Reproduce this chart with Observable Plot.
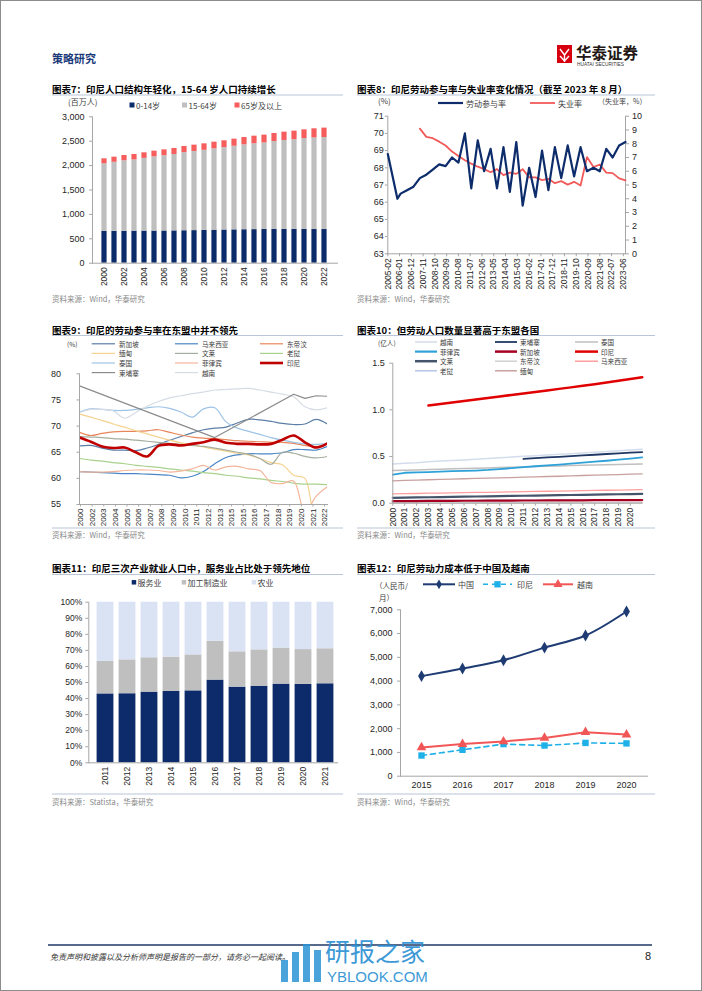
<!DOCTYPE html>
<html lang="zh-CN">
<head>
<meta charset="utf-8">
<script src="https://cdn.jsdelivr.net/npm/d3@7"></script>
<script src="https://cdn.jsdelivr.net/npm/@observablehq/plot@0.6"></script>
<style>
html,body{margin:0;padding:0;background:#fff;}
#page{position:relative;width:702px;height:991px;overflow:hidden;background:#fff;}
.chart{position:absolute;}
</style>
</head>
<body>
<div id="page"></div>
<script>
// ================= DATA =================
// Chart 7: population by age group (百万人)
const years7 = [2000,2001,2002,2003,2004,2005,2006,2007,2008,2009,2010,2011,2012,2013,2014,2015,2016,2017,2018,2019,2020,2021,2022];
const age0_14 = [650,652,655,657,658,658,660,662,665,668,672,676,680,683,686,688,690,691,692,692,691,690,690];
const age15_64 = [1387,1416,1444,1460,1490,1521,1543,1566,1601,1622,1641,1667,1687,1714,1740,1760,1774,1802,1823,1839,1862,1878,1886];
const age65 = [102,105,108,111,114,117,120,123,126,129,133,137,141,145,150,155,160,165,170,175,180,186,192];
const ageGroups = ["0-14岁","15-64岁","65岁及以上"];
const xTicks7 = [2000,2002,2004,2006,2008,2010,2012,2014,2016,2018,2020,2022];
const yTicks7 = [0,500,1000,1500,2000,2500,3000];

// Chart 8: labour participation rate & unemployment rate
const lfprDates = ["2005-02","2005-11","2006-02","2006-08","2007-02","2007-08","2008-02","2008-08","2009-02","2009-08","2010-02","2010-08","2011-02","2011-08","2012-02","2012-08","2013-02","2013-08","2014-02","2014-08","2015-02","2015-08","2016-02","2016-08","2017-02","2017-08","2018-02","2018-08","2019-02","2019-08","2020-02","2020-08","2021-02","2021-08","2022-02","2022-08","2023-02","2023-08"];
const lfpr = [68.8,66.2,66.5,66.7,66.9,67.4,67.6,67.9,68.2,68.1,68.6,68.3,70.0,66.8,69.6,67.8,69.1,66.8,69.2,66.6,69.5,65.8,68.0,66.3,69.0,66.7,69.2,67.4,69.3,67.5,69.2,67.8,68.0,67.8,69.1,68.6,69.3,69.5];
const unempDates = ["2007-08","2008-02","2008-08","2009-02","2009-08","2010-02","2010-08","2011-02","2011-08","2012-02","2012-08","2013-02","2013-08","2014-02","2014-08","2015-02","2015-08","2016-02","2016-08","2017-02","2017-08","2018-02","2018-08","2019-02","2019-08","2020-02","2020-08","2021-02","2021-08","2022-02","2022-08","2023-02","2023-08"];
const unemp = [9.1,8.5,8.4,8.15,7.87,7.43,7.1,6.8,6.55,6.33,6.15,5.93,6.15,5.72,5.9,5.81,6.15,5.55,5.55,5.35,5.45,5.13,5.28,5.03,5.23,4.96,7.03,6.3,6.49,5.9,5.86,5.48,5.33];
const xTicks8 = ["2005-02","2006-01","2006-12","2007-11","2008-10","2009-09","2010-08","2011-07","2012-06","2013-05","2014-04","2015-03","2016-02","2017-01","2017-12","2018-11","2019-10","2020-09","2021-08","2022-07","2023-06"];
const yTicksLeft8 = [63,64,65,66,67,68,69,70,71];
const yTicksRight8 = [0,1,2,3,4,5,6,7,8,9,10];

// Chart 9: ASEAN labour participation rates (%)
const years9 = [2000,2001,2002,2003,2004,2005,2006,2007,2008,2009,2010,2011,2012,2013,2014,2015,2016,2017,2018,2019,2020,2021,2022];
const sg9 = [66.2,66.3,65.8,65.4,65.4,65.3,65.8,66.5,67.3,68.0,68.7,69.3,69.6,69.8,70.6,71.3,71.2,70.9,70.5,70.3,70.4,71.3,70.4];
const my9 = [61.3,61.2,61.1,61.0,60.9,60.9,60.8,60.7,60.6,60.1,60.4,61.3,62.8,64.0,64.5,64.7,64.7,64.7,64.9,65.5,65.5,65.4,66.1];
const tl9 = [68.8,68.2,68.6,68.9,69.0,69.0,69.1,69.3,68.8,68.3,67.9,67.7,67.6,67.4,67.2,67.1,67.0,66.9,66.9,66.7,66.3,66.1,66.7];
const mm9 = [72.3,71.7,71.1,70.4,69.8,69.1,68.5,67.9,67.3,66.8,66.4,66.0,65.6,65.2,64.8,64.5,63.8,63.0,62.6,60.6,60.0,52.0,52.0];
const bn9 = [68.0,67.9,67.8,67.6,67.5,67.3,67.1,66.9,66.7,66.5,66.3,66.1,65.8,65.4,65.0,64.6,63.8,62.7,65.0,64.8,64.2,63.9,64.2];
const la9 = [63.8,63.5,63.3,63.0,62.8,62.5,62.3,62.1,61.8,61.6,61.4,61.1,60.9,60.6,60.4,60.1,59.9,59.6,59.4,59.1,58.9,58.9,58.8];
const th9 = [72.7,73.3,73.2,73.0,73.0,73.2,73.5,73.7,73.4,72.7,71.7,73.3,73.5,70.8,69.6,69.0,68.4,67.8,67.3,66.9,66.6,66.5,66.7];
const ph9 = [61.3,61.2,61.2,61.3,61.5,61.6,61.6,61.5,61.2,61.4,61.8,62.5,61.6,62.2,62.3,61.8,61.5,59.2,59.0,59.5,53.5,56.6,58.4];
const id9 = [67.8,67.0,66.1,65.8,65.9,65.0,64.2,66.2,66.5,66.3,66.6,66.9,67.4,66.8,66.6,66.6,66.5,66.6,67.4,68.2,66.9,65.9,66.7];
const khYears9 = [2000,2012,2019,2020,2021,2022];
const kh9 = [77.7,67.8,76.1,75.3,75.8,75.7];
const vn9 = [72.6,73.2,73.2,72.9,71.5,72.6,73.8,74.7,75.4,75.8,76.2,76.5,76.9,77.0,77.1,77.2,76.9,76.5,76.1,75.6,73.7,73.1,73.5];
const xTickLabels9 = ["2000","2002","2003","2004","2005","2006","2007","2008","2009","2010","2011","2012","2013","2015","2015","2016","2017","2018","2019","2020","2021","2022"];
const yTicks9 = [55,60,65,70,75,80];

// Chart 10: labour force (亿人)
const years10 = [2000,2001,2002,2003,2004,2005,2006,2007,2008,2009,2010,2011,2012,2013,2014,2015,2016,2017,2018,2019,2020,2021];
const vn10 = [0.420,0.428,0.434,0.443,0.451,0.458,0.464,0.472,0.479,0.487,0.494,0.503,0.509,0.517,0.524,0.531,0.539,0.546,0.553,0.561,0.570,0.578];
const khYears10 = [2011,2012,2013,2014,2015,2016,2017,2018,2019,2020,2021];
const kh10 = [0.475,0.483,0.490,0.497,0.505,0.512,0.519,0.527,0.533,0.541,0.548];
const th10 = [0.350,0.354,0.357,0.361,0.364,0.368,0.371,0.375,0.378,0.382,0.385,0.389,0.392,0.396,0.399,0.403,0.406,0.409,0.412,0.415,0.418,0.421];
const ph10 = [0.305,0.326,0.330,0.334,0.339,0.343,0.346,0.350,0.356,0.365,0.376,0.387,0.396,0.405,0.414,0.424,0.434,0.445,0.455,0.466,0.477,0.490];
const sg10 = [0.022,0.023,0.023,0.024,0.024,0.025,0.026,0.026,0.027,0.028,0.028,0.029,0.029,0.030,0.030,0.031,0.031,0.032,0.032,0.033,0.033,0.034];
const idYears10 = [2003,2004,2005,2006,2007,2008,2009,2010,2011,2012,2013,2014,2015,2016,2017,2018,2019,2020,2021];
const id10 = [1.046,1.063,1.080,1.096,1.112,1.128,1.144,1.160,1.176,1.192,1.208,1.225,1.241,1.258,1.275,1.293,1.311,1.330,1.349];
const bn10 = [0.058,0.060,0.062,0.064,0.066,0.068,0.070,0.072,0.074,0.076,0.078,0.080,0.082,0.084,0.086,0.088,0.090,0.092,0.094,0.096,0.098,0.100];
const tl10 = [0.004,0.004,0.004,0.004,0.004,0.004,0.005,0.005,0.005,0.005,0.005,0.005,0.005,0.005,0.005,0.005,0.006,0.006,0.006,0.006,0.006,0.006];
const my10 = [0.100,0.102,0.104,0.107,0.109,0.111,0.113,0.115,0.117,0.119,0.121,0.123,0.126,0.128,0.130,0.132,0.135,0.137,0.139,0.141,0.143,0.146];
const la10 = [0.028,0.028,0.029,0.029,0.030,0.030,0.031,0.031,0.032,0.032,0.033,0.033,0.034,0.034,0.035,0.035,0.036,0.036,0.037,0.037,0.038,0.038];
const mm10 = [0.240,0.244,0.248,0.251,0.255,0.258,0.262,0.265,0.268,0.272,0.275,0.279,0.282,0.286,0.289,0.293,0.297,0.300,0.304,0.307,0.311,0.314];
const xTicks10 = [2000,2001,2002,2003,2004,2005,2006,2007,2008,2009,2010,2011,2012,2013,2014,2015,2016,2017,2018,2019,2020];
const yTicks10 = [0,0.5,1.0,1.5];

// Chart 11: employment share by sector (%)
const years11 = [2011,2012,2013,2014,2015,2016,2017,2018,2019,2020,2021];
const sectors11 = ["服务业","加工制造业","农业"];
const services11 = [42.9,43.0,44.0,44.4,44.8,51.5,47.1,47.7,49.0,48.8,49.2];
const manuf11 = [20.2,21.1,21.4,21.4,22.4,24.2,22.0,22.6,22.4,21.7,21.8];
const agri11 = [36.9,35.9,34.6,34.2,32.8,24.3,30.9,29.7,28.6,29.5,29.0];
const yTicks11 = [0,10,20,30,40,50,60,70,80,90,100];

// Chart 12: labour cost (人民币/月)
const years12 = ["2015","2016","2017","2018","2019","2020"];
const china12 = [4210,4530,4880,5410,5920,6930];
const indo12 = [870,1110,1350,1290,1400,1380];
const viet12 = [1210,1350,1460,1610,1850,1750];
const yTicks12 = [0,1000,2000,3000,4000,5000,6000,7000];

// ================= HELPERS =================
const page = document.getElementById("page");
function place(node, left, top){
  const d = document.createElement("div");
  d.className = "chart"; d.style.left = left + "px"; d.style.top = top + "px";
  d.appendChild(node); page.appendChild(d);
}
const AX = "#a6a6a6", TXT = "#262626";
const NUMFONT = "'Liberation Sans', Arial, sans-serif";
const CJK = "'Noto Sans CJK SC', 'Noto Sans', sans-serif";
const baseStyle = {fontFamily: NUMFONT, fontSize: "9px", color: TXT, background: "transparent", overflow: "visible"};
const yearFmt = d => String(d);

// ================= CHART 7 =================
const rows7 = years7.flatMap((yr, i) => [
  {year: yr, group: ageGroups[0], value: age0_14[i]},
  {year: yr, group: ageGroups[1], value: age15_64[i]},
  {year: yr, group: ageGroups[2], value: age65[i]}
]);
place(Plot.plot({
  width: 300, height: 185, marginLeft: 40, marginRight: 15, marginTop: 8.3, marginBottom: 30.3,
  style: baseStyle,
  x: {type: "band", domain: years7, range: [39.4, 285.5], padding: 0},
  y: {domain: [0, 3000]},
  color: {domain: ageGroups, range: ["#0c2b6b", "#bfbfbf", "#f65d5d"]},
  marks: [
    Plot.barY(rows7, {x: "year", y: "value", fill: "group", insetLeft: 2.4, insetRight: 2.4}),
    Plot.axisY({ticks: yTicks7, tickFormat: d3.format(","), tickSize: 3, tickPadding: 5, stroke: AX, fill: TXT, label: null, fontSize: 9}),
    Plot.axisX({ticks: xTicks7, tickFormat: yearFmt, tickRotate: -90, tickSize: 0, tickPadding: 4, fill: TXT, label: null, fontSize: 8.5}),
    Plot.frame({anchor: "left", stroke: AX}),
    Plot.frame({anchor: "bottom", stroke: AX})
  ]
}), 52, 108);

// ================= CHART 8 =================
const parseYM = d3.utcParse("%Y-%m");
const toLeft8 = v => 63 + v * 0.8;   // right axis (0–10) mapped onto left axis (63–71)
const rowsL8 = lfprDates.map((d, i) => ({date: parseYM(d), value: lfpr[i]}));
const rowsU8 = unempDates.map((d, i) => ({date: parseYM(d), value: unemp[i]}));
place(Plot.plot({
  width: 300, height: 185, marginLeft: 32.3, marginRight: 30, marginTop: 7.7, marginBottom: 39.7,
  style: baseStyle,
  x: {type: "utc", domain: [parseYM("2005-02"), parseYM("2023-08")]},
  y: {domain: [63, 71]},
  marks: [
    Plot.axisY({ticks: yTicksLeft8, tickSize: 2.5, tickPadding: 1.5, stroke: AX, fill: TXT, label: null, fontSize: 9}),
    Plot.axisY({anchor: "right", ticks: yTicksRight8.map(toLeft8), tickFormat: d => Math.round((d - 63) / 0.8), tickSize: 3, tickPadding: 3.5, stroke: AX, fill: TXT, label: null, fontSize: 9}),
    Plot.axisX({ticks: xTicks8.map(parseYM), tickFormat: d3.utcFormat("%Y-%m"), tickRotate: -90, tickSize: 3, tickPadding: 1.5, stroke: AX, fill: TXT, label: null, fontSize: 8.5}),
    Plot.frame({anchor: "left", stroke: AX}),
    Plot.frame({anchor: "right", stroke: AX}),
    Plot.frame({anchor: "bottom", stroke: AX}),
    Plot.line(rowsU8, {x: "date", y: d => toLeft8(d.value), stroke: "#f25a5a", strokeWidth: 1.8}),
    Plot.line(rowsL8, {x: "date", y: "value", stroke: "#0d2c6c", strokeWidth: 2.2})
  ]
}), 355, 108);

// ================= CHART 9 =================
const series9 = [
  {name: "新加坡", values: sg9, color: "#5b7ea6", w: 1.2},
  {name: "马来西亚", values: my9, color: "#4a86c5", w: 1.2},
  {name: "东帝汶", values: tl9, color: "#e8865a", w: 1.2},
  {name: "缅甸", values: mm9, color: "#f5d28f", w: 1.2},
  {name: "文莱", values: bn9, color: "#a5ae9e", w: 1.2},
  {name: "老挝", values: la9, color: "#a9d18e", w: 1.2},
  {name: "泰国", values: th9, color: "#9dc3e6", w: 1.2},
  {name: "菲律宾", values: ph9, color: "#f4b59a", w: 1.2},
  {name: "越南", values: vn9, color: "#d6dce5", w: 1.2}
];
const tickPos9 = xTickLabels9.map((_, i) => 2000.09 + i * 1.031);
const tickMap9 = new Map(tickPos9.map((p, i) => [p, xTickLabels9[i]]));
place(Plot.plot({
  width: 300, height: 163, marginLeft: 39, marginRight: 13, marginTop: 8.3, marginBottom: 24,
  style: baseStyle,
  x: {domain: [2000, 2022]},
  y: {domain: [55, 80]},
  marks: [
    Plot.axisY({ticks: yTicks9, tickSize: 2.5, tickPadding: 16, stroke: AX, fill: TXT, label: null, fontSize: 9}),
    Plot.axisX({ticks: tickPos9, tickFormat: d => tickMap9.get(d), tickRotate: -90, tickSize: 2.5, tickPadding: 1.5, stroke: AX, fill: TXT, label: null, fontSize: 8}),
    ...series9.map(s => Plot.line(s.values, {x: years9, y: d => d, stroke: s.color, strokeWidth: s.w, curve: "catmull-rom", clip: true})),
    Plot.line(kh9, {x: khYears9, y: d => d, stroke: "#8c8c8c", strokeWidth: 1.2, clip: true}),
    Plot.line(id9, {x: years9, y: d => d, stroke: "#c00000", strokeWidth: 2.6, curve: "catmull-rom", clip: true}),
    Plot.frame({anchor: "left", stroke: AX}),
    Plot.frame({anchor: "bottom", stroke: AX})
  ]
}), 40, 365);

// ================= CHART 10 =================
const series10 = [
  {name: "越南", x: years10, values: vn10, color: "#d3ddeb", w: 1.5},
  {name: "泰国", x: years10, values: th10, color: "#bfbfbf", w: 1.5},
  {name: "缅甸", x: years10, values: mm10, color: "#c9a0a0", w: 1.3},
  {name: "马来西亚", x: years10, values: my10, color: "#ff9e9e", w: 1.3},
  {name: "东帝汶", x: years10, values: tl10, color: "#d0d0d0", w: 1.3},
  {name: "老挝", x: years10, values: la10, color: "#b4c7e7", w: 1.3},
  {name: "文莱", x: years10, values: bn10, color: "#44546a", w: 2.2},
  {name: "新加坡", x: years10, values: sg10, color: "#a50021", w: 2.2},
  {name: "菲律宾", x: years10, values: ph10, color: "#2ea2d8", w: 1.8},
  {name: "柬埔寨", x: khYears10, values: kh10, color: "#1f3864", w: 1.8},
  {name: "印尼", x: idYears10, values: id10, color: "#e00000", w: 2.5}
];
place(Plot.plot({
  width: 300, height: 173, marginLeft: 37.3, marginRight: 13.3, marginTop: 7.7, marginBottom: 25.3,
  style: baseStyle,
  x: {domain: [2000, 2021]},
  y: {domain: [0, 1.5]},
  marks: [
    Plot.axisY({ticks: yTicks10, tickFormat: d3.format(".1f"), tickSize: 3, tickPadding: 5, stroke: AX, fill: TXT, label: null, fontSize: 9}),
    Plot.axisX({ticks: xTicks10, tickFormat: yearFmt, tickRotate: -90, tickSize: 3, tickPadding: 1.5, stroke: AX, fill: TXT, label: null, fontSize: 8.5}),
    ...series10.map(s => Plot.line(s.values, {x: s.x, y: d => d, stroke: s.color, strokeWidth: s.w})),
    Plot.frame({anchor: "left", stroke: AX}),
    Plot.frame({anchor: "bottom", stroke: AX})
  ]
}), 355, 355);

// ================= CHART 11 =================
const rows11 = years11.flatMap((yr, i) => [
  {year: yr, sector: sectors11[0], value: services11[i]},
  {year: yr, sector: sectors11[1], value: manuf11[i]},
  {year: yr, sector: sectors11[2], value: agri11[i]}
]);
place(Plot.plot({
  width: 305, height: 198, marginLeft: 48.3, marginRight: 7.9, marginTop: 6.7, marginBottom: 30.7,
  style: baseStyle,
  x: {type: "band", domain: years11, range: [52.9, 297.1], padding: 0},
  y: {domain: [0, 100]},
  color: {domain: sectors11, range: ["#0d2b6b", "#bfbfbf", "#dae3f3"]},
  marks: [
    Plot.barY(rows11, {x: "year", y: "value", fill: "sector", insetLeft: 2.6, insetRight: 2.6}),
    Plot.axisY({ticks: yTicks11, tickFormat: d => d + "%", tickSize: 3, tickPadding: 3.5, stroke: AX, fill: TXT, label: null, fontSize: 8.5}),
    Plot.axisX({tickFormat: yearFmt, tickRotate: -90, tickSize: 0, tickPadding: 4, fill: TXT, label: null, fontSize: 8.5}),
    Plot.frame({anchor: "left", stroke: AX}),
    Plot.frame({anchor: "bottom", stroke: AX})
  ]
}), 40, 595);

// ================= CHART 12 =================
place(Plot.plot({
  width: 300, height: 193, marginLeft: 45, marginRight: 8, marginTop: 9.3, marginBottom: 17.3,
  style: baseStyle,
  x: {type: "point", domain: years12, padding: 0.5},
  y: {domain: [0, 7000]},
  marks: [
    Plot.axisY({ticks: yTicks12, tickFormat: d3.format(","), tickSize: 3, tickPadding: 5, stroke: AX, fill: TXT, label: null, fontSize: 9}),
    Plot.axisX({tickSize: 0, tickPadding: 5, fill: TXT, label: null, fontSize: 9}),
    Plot.frame({anchor: "left", stroke: AX}),
    Plot.frame({anchor: "bottom", stroke: AX}),
    Plot.line(indo12, {x: years12, y: d => d, stroke: "#1fb0e8", strokeWidth: 1.6, strokeDasharray: "5,4"}),
    Plot.dot(indo12, {x: years12, y: d => d, symbol: "square", fill: "#1fb0e8", r: 3.6}),
    Plot.line(viet12, {x: years12, y: d => d, stroke: "#f25757", strokeWidth: 2}),
    Plot.dot(viet12, {x: years12, y: d => d, symbol: "triangle", fill: "#f25757", r: 3.6}),
    Plot.line(china12, {x: years12, y: d => d, stroke: "#1f3b73", strokeWidth: 2, curve: "catmull-rom"}),
    Plot.dot(china12, {x: years12, y: d => d, symbol: "diamond", fill: "#1f3b73", r: 3.6})
  ]
}), 355, 600);

// ================= OVERLAY (titles, legends, notes) =================
const ov = d3.select(page).append("svg")
  .attr("width", 702).attr("height", 991)
  .style("position", "absolute").style("left", "0px").style("top", "0px")
  .style("pointer-events", "none");

function txt(x, y, s, o = {}) {
  const t = ov.append("text").attr("x", x).attr("y", y)
    .attr("dominant-baseline", "central")
    .attr("font-family", o.family || CJK)
    .attr("font-size", o.size || 8)
    .attr("font-weight", o.weight || "normal")
    .attr("fill", o.fill || "#404040")
    .attr("text-anchor", o.anchor || "start")
    .text(s);
  if (o.italic) t.attr("font-style", "italic");
  if (o.opacity) t.attr("opacity", o.opacity);
  return t;
}
function hline(x1, x2, y, color, w, dash) {
  const l = ov.append("line").attr("x1", x1).attr("x2", x2).attr("y1", y).attr("y2", y)
    .attr("stroke", color).attr("stroke-width", w || 1);
  if (dash) l.attr("stroke-dasharray", dash);
  return l;
}
function sq(x, y, s, color) {
  ov.append("rect").attr("x", x).attr("y", y - s / 2).attr("width", s).attr("height", s).attr("fill", color);
}
function sym(type, cx, cy, color, size) {
  ov.append("path").attr("transform", `translate(${cx},${cy})`)
    .attr("d", d3.symbol(type, size)()).attr("fill", color);
}

// page border
ov.append("rect").attr("x", 0.5).attr("y", 0.5).attr("width", 701).attr("height", 990)
  .attr("fill", "none").attr("stroke", "#8c8c8c");

// header
txt(52, 58, "策略研究", {size: 11, weight: "bold", fill: "#1b3a7a"});
ov.append("rect").attr("x", 557).attr("y", 45).attr("width", 15).attr("height", 18).attr("fill", "#d7000f");
ov.append("path").attr("d", "M560,49 L564.5,55 L569,49 M560,56 L564.5,61 L569,56 M564.5,55 L564.5,62")
  .attr("stroke", "#fff").attr("stroke-width", 1.4).attr("fill", "none");
txt(576, 51.5, "华泰证券", {size: 15.5, weight: "bold", fill: "#231815"});
txt(577, 64, "HUATAI SECURITIES", {size: 4.8, fill: "#333", family: NUMFONT});

// titles and rules
const TITLE = {size: 9.5, weight: "bold", fill: "#000"};
const RULE = "#b9c5d8";
txt(52, 88.5, "图表7：印尼人口结构年轻化，15-64 岁人口持续增长", TITLE);
txt(357, 88.5, "图表8：印尼劳动参与率与失业率变化情况（截至 2023 年 8 月）", TITLE);
hline(52, 343, 95, RULE); hline(357, 655, 95, RULE);
txt(52, 330, "图表9：印尼的劳动参与率在东盟中并不领先", TITLE);
txt(357, 330, "图表10：但劳动人口数量显著高于东盟各国", TITLE);
hline(52, 343, 335.5, RULE); hline(357, 655, 335.5, RULE);
txt(52, 568, "图表11：印尼三次产业就业人口中，服务业占比处于领先地位", TITLE);
txt(357, 568, "图表12：印尼劳动力成本低于中国及越南", TITLE);
hline(52, 343, 574.5, RULE); hline(357, 655, 574.5, RULE);
hline(52, 343, 528, RULE); hline(357, 655, 528, RULE);
hline(52, 343, 794, RULE); hline(357, 655, 794, RULE);

// sources
const SRC = {size: 7.5, fill: "#8a8a8a"};
txt(52, 298, "资料来源：Wind，华泰研究", SRC);
txt(357, 298, "资料来源：Wind，华泰研究", SRC);
txt(52, 534, "资料来源：Wind，华泰研究", SRC);
txt(357, 534, "资料来源：Wind，华泰研究", SRC);
txt(52, 801, "资料来源：Statista，华泰研究", SRC);
txt(357, 801, "资料来源：Wind，华泰研究", SRC);

// legend chart 7
const LEG = {size: 8, fill: "#404040"};
txt(68, 101.5, "(百万人)", LEG);
sq(129.5, 105, 5, "#0c2b6b"); txt(136, 105, "0-14岁", LEG);
sq(182, 105, 5, "#bfbfbf"); txt(188.5, 105, "15-64岁", LEG);
sq(234.5, 105, 5, "#f65d5d"); txt(241, 105, "65岁及以上", LEG);

// legend chart 8
txt(378, 100, "(%)", LEG);
hline(438, 463, 103, "#0d2c6c", 2.2); txt(466, 103, "劳动参与率", LEG);
hline(530, 555, 103, "#f25a5a", 1.8); txt(558, 103, "失业率", LEG);
txt(598, 101, "（失业率，%）", {size: 7, fill: "#404040"});

// legend chart 9
const LEGS = {size: 6.6, fill: "#404040"};
txt(67, 344, "(%)", LEGS);
const leg9 = [
  [["新加坡", "#5b7ea6", 1.2], ["马来西亚", "#4a86c5", 1.2], ["东帝汶", "#e8865a", 1.2]],
  [["缅甸", "#f5d28f", 1.2], ["文莱", "#a5ae9e", 1.2], ["老挝", "#a9d18e", 1.2]],
  [["泰国", "#9dc3e6", 1.2], ["菲律宾", "#f4b59a", 1.2], ["印尼", "#c00000", 2.6]],
  [["柬埔寨", "#8c8c8c", 1.2], ["越南", "#d6dce5", 1.2]]
];
const rowsY9 = [343.8, 353.4, 363, 372.6], colX9 = [[91.7, 115, 119], [175, 198, 202], [260, 283, 287]];
leg9.forEach((row, r) => row.forEach((it, c) => {
  hline(colX9[c][0], colX9[c][1], rowsY9[r], it[1], it[2]);
  txt(colX9[c][2], rowsY9[r], it[0], LEGS);
}));

// legend chart 10
txt(378, 343, "(亿人)", LEGS);
const leg10 = [
  [["越南", "#d3ddeb", 1.5], ["柬埔寨", "#1f3864", 1.8], ["泰国", "#bfbfbf", 1.5]],
  [["菲律宾", "#2ea2d8", 2.2], ["新加坡", "#a50021", 2.5], ["印尼", "#e00000", 2.5]],
  [["文莱", "#44546a", 2.5], ["东帝汶", "#d0d0d0", 1.5], ["马来西亚", "#ff9e9e", 1.5]],
  [["老挝", "#b4c7e7", 1.5], ["缅甸", "#c9a0a0", 1.5]]
];
const rowsY10 = [342, 351.6, 361.2, 370.8], colX10 = [[415, 437, 440], [495, 517, 520], [575, 598, 601]];
leg10.forEach((row, r) => row.forEach((it, c) => {
  hline(colX10[c][0], colX10[c][1], rowsY10[r], it[1], it[2]);
  txt(colX10[c][2], rowsY10[r], it[0], LEGS);
}));

// legend chart 11
sq(131.7, 582.3, 4.5, "#0d2b6b"); txt(137.5, 582.3, "服务业", LEG);
sq(181.7, 582.3, 4.5, "#bfbfbf"); txt(187.5, 582.3, "加工制造业", LEG);
sq(251.7, 582.3, 4.5, "#dae3f3"); txt(257.5, 582.3, "农业", LEG);

// legend chart 12
txt(375, 585, "（人民币/", {size: 7.5, fill: "#404040"});
txt(379, 597, "月）", {size: 7.5, fill: "#404040"});
hline(423, 455, 584.3, "#1f3b73", 2); sym(d3.symbolDiamond, 439, 584.3, "#1f3b73", 28); txt(458, 584.3, "中国", LEG);
hline(483, 512, 584.3, "#1fb0e8", 1.6, "5,4"); sym(d3.symbolSquare, 497.5, 584.3, "#1fb0e8", 40); txt(517, 584.3, "印尼", LEG);
hline(543, 573, 584.3, "#f25757", 2); sym(d3.symbolTriangle, 558, 584.3, "#f25757", 36); txt(577, 584.3, "越南", LEG);

// footer
hline(48, 652, 945, "#1f3864", 1.3);
txt(50, 956, "免责声明和披露以及分析师声明是报告的一部分，请务必一起阅读。", {size: 8, italic: true, fill: "#333"});
txt(651, 956, "8", {size: 11, fill: "#222", family: NUMFONT, anchor: "end"});
// watermark
[[281, 960, 22], [292, 952, 30], [303, 944, 38], [314, 950, 32]].forEach(b =>
  ov.append("rect").attr("x", b[0]).attr("y", b[1]).attr("width", 7).attr("height", b[2]).attr("fill", "#2a93d5").attr("opacity", 0.85));
txt(325, 950, "研报之家", {size: 25, fill: "#2a8fd3", opacity: 0.9});
txt(327, 976, "YBLOOK.COM", {size: 15, fill: "#2a8fd3", family: NUMFONT, opacity: 0.9});
</script>
</body>
</html>
